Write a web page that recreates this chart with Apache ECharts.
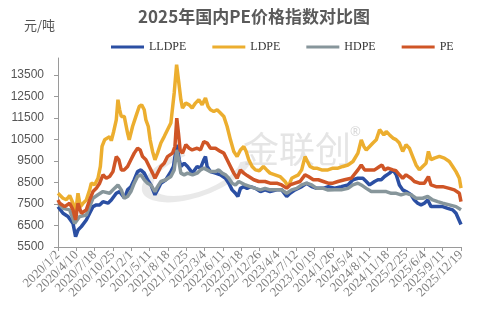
<!DOCTYPE html>
<html>
<head>
<meta charset="utf-8">
<script src="https://cdn.jsdelivr.net/npm/echarts@6/dist/echarts.min.js"></script>
<style>
  html, body { margin: 0; padding: 0; background: #fff; }
  #chart { width: 486px; height: 324px; }
</style>
</head>
<body>
<div id="chart"></div>
<script>
// Daily category axis: 2020/1/2 .. 2025/12/19
const startDate = [2020, 1, 2];
const dayCount = 2179;
const labelStep = 99;

// Price index samples per series: [day offset from 2020/1/2, value]
const lldpe = [
  [0, 7380], [27, 7070], [54, 6920], [81, 6600], [95, 5980], [108, 6290], [126, 6450],
  [153, 6760], [171, 7070], [189, 7380], [207, 7460], [225, 7460], [243, 7610], [270, 7540],
  [288, 7690], [315, 8000], [333, 8080], [360, 7770], [376, 8160], [394, 8310], [412, 8630],
  [430, 9010], [448, 9090], [466, 8940], [484, 8630], [502, 8390], [524, 7930], [538, 8160],
  [556, 8470], [583, 8630], [610, 9010], [624, 9250], [642, 10260], [655, 9560], [664, 9250],
  [682, 9400], [700, 9250], [727, 8940], [752, 9250], [770, 9170], [788, 9560], [797, 9710],
  [806, 9250], [824, 9010], [851, 8940], [878, 8860], [905, 8700], [923, 8470], [941, 8160],
  [959, 8000], [972, 7850], [986, 8230], [1004, 8310], [1022, 8230], [1040, 8310], [1067, 8230],
  [1094, 8080], [1119, 8160], [1146, 8080], [1182, 8160], [1209, 8160], [1236, 7850], [1254, 8000],
  [1281, 8160], [1317, 8310], [1344, 8470], [1371, 8310], [1398, 8230], [1434, 8230], [1461, 8310],
  [1495, 8240], [1531, 8310], [1567, 8390], [1594, 8630], [1621, 8700], [1648, 8700], [1666, 8550],
  [1684, 8390], [1711, 8550], [1729, 8630], [1747, 8630], [1765, 8780], [1792, 8940], [1810, 9090],
  [1828, 8860], [1845, 8390], [1863, 8160], [1881, 8080], [1908, 7930], [1926, 7690], [1944, 7540],
  [1962, 7460], [1980, 7540], [1998, 7690], [2016, 7380], [2043, 7380], [2079, 7380], [2106, 7300],
  [2133, 7230], [2151, 7070], [2178, 6550]
];

const ldpe = [
  [0, 8000], [9, 7950], [27, 7770], [45, 7700], [63, 7900], [81, 7540], [95, 7070], [108, 8000],
  [121, 7380], [135, 7530], [153, 7690], [171, 8160], [180, 8470], [198, 8400], [216, 8700],
  [229, 9250], [238, 10180], [252, 10490], [261, 10400], [279, 10640], [288, 10450], [301, 10880],
  [315, 11420], [324, 12360], [333, 11900], [342, 11580], [358, 11580], [376, 10800], [385, 10490],
  [403, 11110], [421, 11580], [439, 12040], [452, 12120], [466, 11890], [475, 11420], [488, 11110],
  [498, 10490], [511, 9950], [524, 9560], [538, 9870], [556, 10340], [574, 10640], [592, 10960],
  [610, 11270], [628, 12670], [641, 13990], [651, 13290], [664, 12360], [673, 11970], [691, 12200],
  [709, 12120], [725, 11970], [743, 12200], [761, 12360], [779, 12120], [797, 12440], [811, 12040],
  [824, 11890], [842, 11810], [860, 11890], [878, 11740], [896, 11580], [914, 11110], [932, 10490],
  [950, 9950], [968, 9710], [986, 10020], [1004, 10180], [1017, 9950], [1031, 9560], [1049, 9250],
  [1067, 9090], [1088, 9050], [1110, 9250], [1128, 9090], [1146, 8940], [1173, 8860], [1200, 8780],
  [1227, 8550], [1245, 8310], [1263, 8700], [1281, 8780], [1299, 8860], [1317, 9090], [1335, 9710],
  [1348, 9480], [1362, 9250], [1380, 9170], [1398, 9170], [1425, 9090], [1459, 9090], [1486, 9170],
  [1513, 9170], [1540, 9250], [1567, 9320], [1594, 9480], [1621, 9870], [1639, 10490], [1653, 10180],
  [1666, 10020], [1684, 10180], [1702, 10340], [1720, 10490], [1738, 10960], [1747, 11030],
  [1761, 10720], [1774, 10880], [1792, 10720], [1810, 10570], [1827, 10500], [1845, 10340],
  [1863, 9950], [1881, 10260], [1899, 10100], [1917, 9710], [1935, 9320], [1953, 9090], [1971, 9250],
  [1989, 9400], [2002, 9950], [2016, 9560], [2034, 9640], [2061, 9720], [2088, 9640], [2115, 9480],
  [2133, 9250], [2151, 9010], [2169, 8700], [2178, 8240]
];

const hdpe = [
  [0, 7540], [27, 7300], [63, 7230], [90, 6600], [117, 6920], [153, 6990], [171, 7380], [189, 7770],
  [216, 7930], [243, 8080], [279, 8000], [306, 8240], [324, 8390], [342, 8160], [358, 7770],
  [376, 7850], [394, 8080], [412, 8470], [430, 8780], [448, 8860], [466, 8630], [484, 8470],
  [502, 8390], [524, 8080], [538, 8310], [556, 8550], [583, 8630], [610, 8780], [628, 9090],
  [642, 10020], [655, 9400], [664, 8940], [682, 8860], [700, 8940], [727, 8860], [752, 8940],
  [770, 9090], [788, 9170], [806, 9090], [824, 9010], [851, 9010], [869, 9090], [887, 8940],
  [905, 8860], [923, 8700], [941, 8470], [959, 8390], [977, 8550], [995, 8470], [1013, 8390],
  [1040, 8310], [1067, 8230], [1094, 8160], [1119, 8230], [1146, 8160], [1182, 8160], [1209, 8160],
  [1236, 8000], [1263, 8160], [1290, 8230], [1317, 8390], [1344, 8470], [1371, 8390], [1398, 8230],
  [1434, 8230], [1460, 8150], [1495, 8160], [1531, 8160], [1567, 8230], [1594, 8390], [1621, 8470],
  [1639, 8390], [1666, 8230], [1693, 8080], [1720, 8080], [1747, 8080], [1774, 8080], [1801, 8000],
  [1828, 8000], [1854, 7930], [1881, 8000], [1908, 7930], [1935, 7770], [1971, 7770], [1998, 7850],
  [2025, 7690], [2052, 7610], [2079, 7540], [2115, 7460], [2151, 7380], [2178, 7230]
];

const pe = [
  [0, 7690], [9, 7540], [36, 7380], [63, 7540], [81, 7230], [95, 6760], [108, 7540], [126, 7070],
  [153, 7230], [171, 7690], [189, 8080], [207, 8230], [225, 8470], [243, 8860], [261, 8700],
  [279, 8780], [297, 9010], [315, 9710], [329, 9560], [342, 9090], [358, 9090], [376, 9250],
  [394, 9560], [412, 9870], [430, 10100], [444, 10020], [457, 9710], [475, 9560], [493, 9250],
  [511, 8940], [524, 8700], [538, 8940], [556, 9250], [574, 9400], [592, 9710], [619, 9870],
  [632, 10180], [642, 11500], [651, 10800], [660, 10020], [673, 9870], [691, 10260], [709, 10100],
  [725, 10020], [752, 10100], [770, 10020], [788, 10410], [806, 10340], [824, 10100], [851, 10100],
  [878, 9950], [896, 9870], [914, 9560], [932, 9250], [950, 8940], [968, 8700], [986, 9090],
  [1004, 8940], [1017, 8860], [1031, 8780], [1058, 8630], [1085, 8550], [1119, 8550], [1146, 8470],
  [1182, 8470], [1209, 8390], [1236, 8240], [1254, 8390], [1281, 8470], [1308, 8550], [1335, 8860],
  [1353, 8780], [1380, 8630], [1407, 8630], [1434, 8550], [1460, 8470], [1486, 8470], [1513, 8550],
  [1549, 8630], [1585, 8700], [1621, 9090], [1639, 9320], [1657, 9090], [1684, 9090], [1711, 9090],
  [1738, 9250], [1751, 9320], [1765, 9090], [1783, 9170], [1810, 9090], [1827, 9050], [1845, 8860],
  [1863, 8700], [1881, 8860], [1908, 8700], [1926, 8550], [1953, 8470], [1980, 8470], [2002, 8780],
  [2016, 8390], [2043, 8310], [2079, 8310], [2115, 8230], [2142, 8160], [2169, 8000], [2178, 7610]
];

const seriesNames = ['LLDPE', 'LDPE', 'HDPE', 'PE'];
const seriesColors = ['#2b4fa3', '#ecae2f', '#87969b', '#cf5526'];
const seriesValues = [lldpe, ldpe, hdpe, pe];

// Build the day-by-day category labels, e.g. "2020/1/2"
const categories = [];
const t0 = Date.UTC(startDate[0], startDate[1] - 1, startDate[2]);
for (let i = 0; i < dayCount; i++) {
  const d = new Date(t0 + i * 86400000);
  categories.push(d.getUTCFullYear() + '/' + (d.getUTCMonth() + 1) + '/' + d.getUTCDate());
}

const chart = echarts.init(document.getElementById('chart'), null, { renderer: 'canvas' });

chart.setOption({
  animation: false,
  backgroundColor: '#ffffff',
  title: {
    text: '2025年国内PE价格指数对比图',
    left: 249,
    textAlign: 'center',
    top: 3,
    textStyle: {
      fontFamily: 'Noto Sans CJK SC',
      fontSize: 17,
      fontWeight: 'bold',
      color: '#5a5a5a'
    }
  },
  legend: {
    data: seriesNames,
    left: 106,
    top: 36,
    itemWidth: 33,
    itemHeight: 3,
    itemGap: 26,
    icon: 'rect',
    textStyle: {
      fontFamily: 'Liberation Serif',
      fontSize: 12,
      color: '#333'
    }
  },
  graphic: [
    {
      type: 'text',
      left: 24,
      top: 19,
      style: { text: '元/吨', font: '13px "Noto Sans CJK SC"', fill: '#555' }
    },
    {
      type: 'arc',
      z: 0,
      x: 197,
      y: 172,
      scaleY: 0.42,
      rotation: 0.35,
      shape: { cx: 0, cy: 0, r: 52, startAngle: 0.3, endAngle: 4.6 },
      style: { stroke: 'rgba(200,200,200,0.4)', lineWidth: 12, fill: null }
    },
    {
      type: 'text',
      z: 0,
      left: 243,
      top: 131,
      style: { text: '金联创', font: '36px "Noto Sans CJK SC"', fill: 'rgba(190,190,190,0.4)' }
    },
    {
      type: 'text',
      z: 0,
      left: 350,
      top: 126,
      style: { text: '®', font: '13px "Noto Sans"', fill: 'rgba(190,190,190,0.6)' }
    }
  ],
  grid: { left: 58, right: 25, top: 58, bottom: 77 },
  xAxis: {
    type: 'category',
    data: categories,
    boundaryGap: false,
    axisLine: { lineStyle: { color: '#9a9a9a', width: 1 } },
    axisTick: { show: true, interval: labelStep - 1, length: 4, lineStyle: { color: '#9a9a9a' } },
    axisLabel: {
      interval: labelStep - 1,
      rotate: 45,
      margin: 6,
      fontFamily: 'Liberation Serif',
      fontSize: 13,
      color: '#7f7f7f'
    },
    splitLine: { show: false }
  },
  yAxis: {
    type: 'value',
    min: 5500,
    max: 14300,
    interval: 1000,
    axisLine: { show: true, lineStyle: { color: '#9a9a9a', width: 1 } },
    axisTick: { show: true, length: 4, lineStyle: { color: '#9a9a9a' } },
    axisLabel: {
      showMaxLabel: false,
      margin: 14,
      formatter: (v) => String(v),
      fontFamily: 'Liberation Sans',
      fontSize: 12,
      color: '#555'
    },
    splitLine: { show: false }
  },
  series: seriesNames.map((name, i) => ({
    name: name,
    type: 'line',
    data: seriesValues[i],
    showSymbol: false,
    symbol: 'none',
    z: 3 + i,
    lineStyle: { width: 3.5, color: seriesColors[i] },
    itemStyle: { color: seriesColors[i] }
  }))
});
</script>
</body>
</html>
